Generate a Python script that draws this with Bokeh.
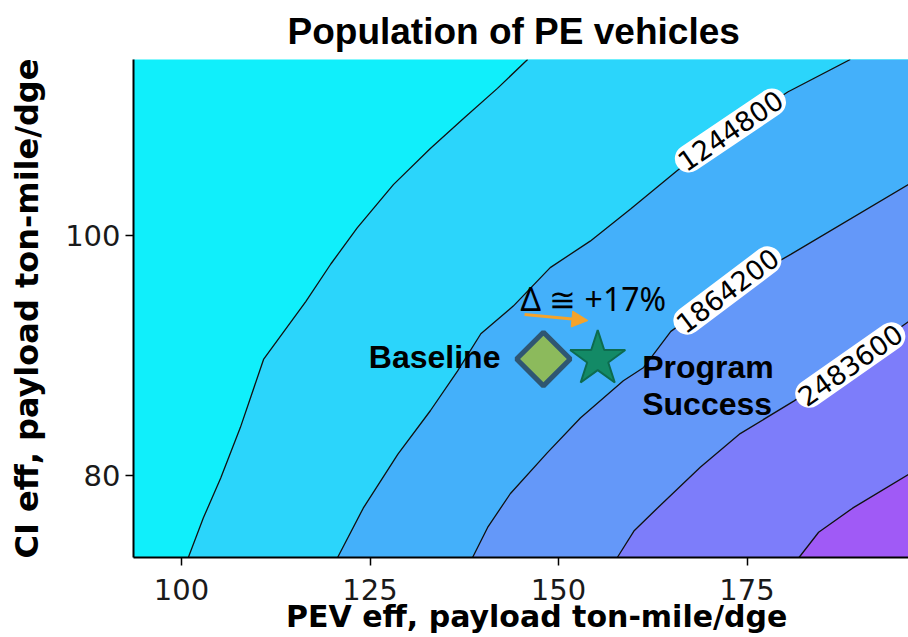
import math
from bokeh.plotting import figure
from bokeh.models import Range1d, Arrow, NormalHead, FixedTicker
from bokeh.core.properties import value
from bokeh.embed import file_html
from bokeh.resources import INLINE

# ---------------- data ----------------
X_MIN, X_MAX = 93.63, 196.42
Y_MIN, Y_MAX = 73.2, 114.6

x_ticks = [100, 125, 150, 175]
y_ticks = [80, 100]

levels = [625400, 1244800, 1864200, 2483600, 3103000]

# contour lines (bottom edge -> top/right edge)
c1_x = [100.9, 102.9, 105.2, 107.8, 110.9, 116.5, 119.8, 123.3, 128.1, 133.0, 137.4, 141.9, 145.9]
c1_y = [73.2, 76.5, 79.8, 84.0, 89.7, 94.5, 97.6, 100.6, 104.2, 107.2, 109.7, 112.2, 114.6]
c2_x = [120.7, 124.1, 128.7, 133.0, 136.6, 139.7, 144.0, 148.9, 154.2, 159.6, 165.8, 172.8, 180.4, 188.7]
c2_y = [73.2, 77.3, 81.8, 85.4, 88.7, 91.8, 94.1, 97.3, 99.5, 102.2, 105.4, 108.7, 111.9, 114.6]
c3_x = [138.6, 140.6, 143.6, 148.5, 152.9, 158.6, 161.3, 164.9, 172.4, 180.8, 196.4]
c3_y = [73.2, 75.7, 78.5, 81.9, 84.8, 87.9, 89.0, 92.0, 95.4, 98.4, 104.2]
c4_x = [157.8, 160.0, 163.1, 168.8, 174.1, 181.2, 188.7, 196.4]
c4_y = [73.2, 75.4, 77.3, 80.7, 83.5, 86.2, 89.4, 92.8]
c5_x = [181.9, 184.5, 189.0, 196.4]
c5_y = [73.2, 75.3, 77.3, 80.1]

band_colors = ["#10effb", "#2bd5fb", "#44b0fa", "#6498f9", "#7d7dfa", "#a05af6"]

label_text = ["1244800", "1864200", "2483600"]
label_x = [172.8, 172.4, 188.7]
label_y = [108.7, 95.4, 89.2]
label_angle_deg = [34, 37, 35]

baseline_x, baseline_y = 148.0, 89.7
success_x, success_y = 155.2, 89.7
arrow_from = (145.5, 93.4)
arrow_to = (153.9, 92.9)

title_text = "Population of PE vehicles"
x_title = "\u00a0\u00a0\u00a0PEV eff, payload ton-mile/dge"
y_title = "CI eff, payload ton-mile/dge"

# ---------------- figure ----------------
p = figure(width=908, height=637,
           x_range=Range1d(X_MIN, X_MAX), y_range=Range1d(Y_MIN, Y_MAX),
           output_backend="svg", toolbar_location=None,
           min_border_left=133, min_border_right=0,
           min_border_top=58, min_border_bottom=80,
           title=title_text)

p.title.align = "left"
p.title.offset = 154
p.title.standoff = 16
p.title.text_font = "Liberation Sans"
p.title.text_font_style = "bold"
p.title.text_font_size = "37px"
p.title.text_color = "black"

p.xgrid.visible = False
p.ygrid.visible = False
p.outline_line_color = None
p.background_fill_color = band_colors[0]
p.border_fill_color = "white"

for ax in (p.xaxis[0], p.yaxis[0]):
    ax.axis_line_width = 2
    ax.axis_line_color = "black"
    ax.major_tick_out = 8
    ax.major_tick_in = 0
    ax.major_tick_line_color = "black"
    ax.major_tick_line_width = 1.5
    ax.minor_tick_line_color = None
    ax.major_label_text_font = "DejaVu Sans"
    ax.major_label_text_color = "#1a1a1a"
    ax.axis_label_text_font = "DejaVu Sans"
    ax.axis_label_text_font_style = "bold"
    ax.axis_label_text_color = "black"

p.xaxis.ticker = FixedTicker(ticks=x_ticks)
p.yaxis.ticker = FixedTicker(ticks=y_ticks)
p.xaxis.axis_label = x_title
p.yaxis.axis_label = y_title
p.xaxis.major_label_text_font_size = "29px"
p.yaxis.major_label_text_font_size = "29px"
p.xaxis.axis_label_text_font_size = "30px"
p.yaxis.axis_label_text_font_size = "32px"
p.xaxis.major_label_standoff = 13
p.xaxis.axis_label_standoff = -4
p.yaxis.major_label_standoff = 5
p.yaxis.axis_label_standoff = 16

# filled bands: region right/below each contour line
contours = [(c1_x, c1_y), (c2_x, c2_y), (c3_x, c3_y), (c4_x, c4_y), (c5_x, c5_y)]
x_far = X_MAX + 10
patch_xs, patch_ys = [], []
for cx, cy in contours:
    patch_xs.append(list(cx) + [x_far, x_far])
    patch_ys.append(list(cy) + [cy[-1], cy[0]])
p.patches(xs=patch_xs, ys=patch_ys, fill_color=band_colors[1:], line_color=None)

p.multi_line(xs=[c[0] for c in contours], ys=[c[1] for c in contours],
             line_color="#111111", line_width=1.3)

# contour labels
p.text(x=label_x, y=label_y, text=label_text,
       angle=[math.radians(a) for a in label_angle_deg],
       text_align="center", text_baseline="middle",
       text_font=value("DejaVu Sans"), text_font_size="27px", text_color="black",
       background_fill_color="white", border_radius=14, padding=4)

# markers
p.scatter(x=[baseline_x], y=[baseline_y], marker="square", angle=math.pi / 4, size=38,
          fill_color="#8cba5c", line_color="#2f5672", line_width=5)
p.scatter(x=[success_x], y=[success_y], marker="star", size=58,
          fill_color="#138a66", line_color="#0d6b4e", line_width=2)

orange = "#f5a32b"
p.add_layout(Arrow(end=NormalHead(size=16, fill_color=orange, line_color=orange),
                   x_start=arrow_from[0], y_start=arrow_from[1],
                   x_end=arrow_to[0], y_end=arrow_to[1],
                   line_color=orange, line_width=3))

# annotations
p.text(x=[142.3], y=[89.87], text=["Baseline"], text_align="right", text_baseline="middle",
       text_font=value("Liberation Sans"), text_font_style="bold", text_font_size="32px",
       text_color="black")
p.text(x=[161.1, 161.1], y=[89.05, 86.0], text=["Program", "Success"],
       text_align="left", text_baseline="middle",
       text_font=value("Liberation Sans"), text_font_style="bold", text_font_size="32px",
       text_color="black")
p.text(x=[144.96], y=[94.77], text=["Δ ≅ +17%"], text_align="left", text_baseline="middle",
       text_font=value("Noto Sans"), text_font_size="32px", text_color="black")

open("out.html", "w").write(file_html(p, INLINE))
